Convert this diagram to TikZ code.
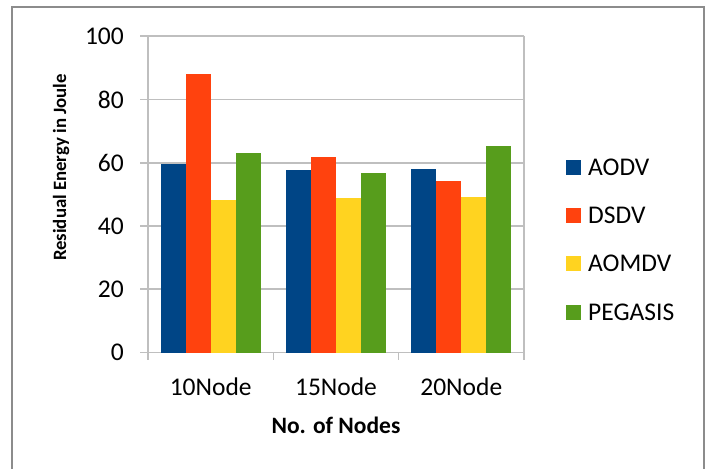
\documentclass[tikz,border=0pt]{standalone}
\usepackage{fontspec}
\setmainfont{Carlito}
\definecolor{caodv}{HTML}{004586}
\definecolor{cdsdv}{HTML}{FF420E}
\definecolor{caomdv}{HTML}{FFD320}
\definecolor{cpeg}{HTML}{579D1C}
\definecolor{gridc}{HTML}{BFBFBF}
\definecolor{framec}{HTML}{8C8C8C}
\begin{document}
\begin{tikzpicture}[x=1pt,y=-1pt,
  grid/.style={draw=gridc,line width=1.6pt},
  lbl/.style={inner sep=0pt,font=\fontsize{25.5}{30}\selectfont},
  ttl/.style={inner sep=0pt,font=\bfseries\fontsize{23.5}{28}\selectfont},
  ytl/.style={inner sep=0pt,font=\bfseries\fontsize{18.8}{22}\selectfont},
  bar/.style={inner sep=0pt,outer sep=0pt}]
\useasboundingbox (0,0) rectangle (708,468);
% outer frame
\draw[framec,line width=1.6pt] (12,470) -- (12,7) -- (704,7) -- (704,470);
% gridlines
\foreach \v in {0,20,...,100}{
  \draw[grid] (140,{352.5-3.1625*\v}) -- (524,{352.5-3.1625*\v});
  \node[lbl,anchor=east] (y\v) at (124,{352.5-3.1625*\v}) {\v};
}
\draw[grid] (148,36) -- (148,360);
\draw[grid] (524,36) -- (524,360);
\foreach \x in {273.33,398.67}{\draw[grid] (\x,352.5) -- (\x,360);}
% bars
\foreach \g/\a/\b/\c/\d in {0/59.6/88/48.3/63.2, 1/57.7/61.7/49/56.7, 2/58/54.3/49.1/65.3}{
  \pgfmathsetmacro{\xs}{148+125.33*\g+12.5}
  \fill[caodv] (\xs,352.5) rectangle ({\xs+25.08},{352.5-3.1625*\a});
  \fill[cdsdv] ({\xs+25.08},352.5) rectangle ({\xs+50.16},{352.5-3.1625*\b});
  \fill[caomdv] ({\xs+50.16},352.5) rectangle ({\xs+75.24},{352.5-3.1625*\c});
  \fill[cpeg] ({\xs+75.24},352.5) rectangle ({\xs+100.32},{352.5-3.1625*\d});
}
% category labels
\node[lbl,anchor=base] (c1) at (210.7,395) {10Node};
\node[lbl,anchor=base] (c2) at (336,395) {15Node};
\node[lbl,anchor=base] (c3) at (461.3,395) {20Node};
% axis titles
\node[ttl,anchor=base] (xt) at (336,433) {No. of Nodes};
\node[ytl,anchor=base,rotate=90] (yt) at (66,167.5) {Residual Energy in Joule};
% legend
\foreach \n/\col/\yy in {AODV/caodv/167.5, DSDV/cdsdv/215.5, AOMDV/caomdv/263.5, PEGASIS/cpeg/312}{
  \fill[\col] (566,{\yy-7.5}) rectangle (581,{\yy+7.5});
  \node[lbl,anchor=west] (l\n) at (588,\yy) {\n};
}
\end{tikzpicture}
\end{document}
